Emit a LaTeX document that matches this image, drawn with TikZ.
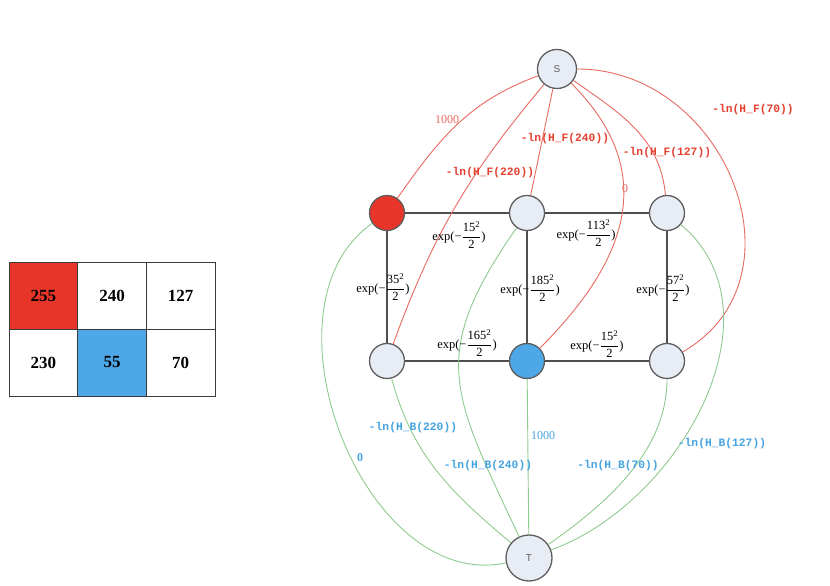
\documentclass[tikz,border=0pt]{standalone}
\usepackage{fontspec}
\setmainfont{Liberation Serif}
\newfontfamily\monof{Liberation Mono}
\newfontfamily\sansf{Liberation Sans}
\definecolor{nodefill}{HTML}{E8EDF5}
\definecolor{nodeline}{HTML}{5E5E5E}
\definecolor{gridline}{HTML}{4F4F4F}
\definecolor{redline}{HTML}{E86A60}
\definecolor{greenline}{HTML}{8FCB8F}
\definecolor{redtext}{HTML}{E5402F}
\definecolor{bluetext}{HTML}{45A3E0}
\definecolor{redfill}{HTML}{E8352A}
\definecolor{bluefill}{HTML}{4EA8E8}
\definecolor{cellline}{HTML}{3A3A3A}
\newcommand{\fr}[2]{$\displaystyle\frac{\mbox{#1}}{\mbox{#2}}$}
\newcommand{\sq}[1]{#1\textsuperscript{2}}
\begin{document}
\begin{tikzpicture}[x=1pt,y=1pt,
  vert/.style={circle, draw=nodeline, line width=1.3pt, fill=nodefill, minimum size=35pt, inner sep=0pt},
  term/.style={vert, font=\sansf\fontsize{10}{12}\selectfont, text=nodeline},
  redE/.style={draw=redline, line width=0.9pt},
  greenE/.style={draw=greenline, line width=0.9pt},
  gridE/.style={draw=gridline, line width=1.3pt},
  explab/.style={font=\fontsize{12.5}{14}\selectfont, inner sep=0pt},
  redlab/.style={font=\monof\bfseries\fontsize{11.3}{13}\selectfont, text=redtext, inner sep=0pt},
  bluelab/.style={font=\monof\bfseries\fontsize{11.3}{13}\selectfont, text=bluetext, inner sep=0pt},
  rednum/.style={font=\fontsize{12}{14}\selectfont, text=redline, inner sep=0pt},
  bluenum/.style={font=\fontsize{12}{14}\selectfont, text=bluetext, inner sep=0pt},
  cell/.style={draw=cellline, line width=0.8pt, minimum width=68.67pt, minimum height=67pt, inner sep=0pt, font=\bfseries\fontsize{17}{19}\selectfont}
]
\useasboundingbox (0,0) rectangle (830,586);
\fill[white] (0,0) rectangle (830,586);

% table
\node[cell, fill=redfill] (c11) at (43.3,290.5) {255};
\node[cell] (c12) at (112,290.5) {240};
\node[cell] (c13) at (180.7,290.5) {127};
\node[cell] (c21) at (43.3,223.5) {230};
\node[cell, fill=bluefill] (c22) at (112,223.5) {55};
\node[cell] (c23) at (180.7,223.5) {70};

% vertices
\node[term, minimum size=39pt] (S) at (557,517) {S};
\node[term, minimum size=46pt] (T) at (529,28) {T};
\node[vert, fill=redfill] (R) at (387,373) {};
\node[vert] (TM) at (527,373) {};
\node[vert] (TR) at (667,373) {};
\node[vert] (BL) at (387,225) {};
\node[vert, fill=bluefill] (B) at (527,225) {};
\node[vert] (BR) at (667,225) {};

% grid edges
\draw[gridE] (R) -- (TM);
\draw[gridE] (TM) -- (TR);
\draw[gridE] (BL) -- (B);
\draw[gridE] (B) -- (BR);
\draw[gridE] (R) -- (BL);
\draw[gridE] (TM) -- (B);
\draw[gridE] (TR) -- (BR);

% source edges
\draw[redE] (S) to[out=200, in=55] (R);
\draw[redE] (S) to[out=230, in=70] (BL);
\draw[redE] (S) -- (TM);
\draw[redE] (S) to[out=-45, in=45, looseness=1.2] (B);
\draw[redE] (S) to[out=-35, in=95] (TR);
\draw[redE] (S) to[out=0, in=30, looseness=1.25] (BR);

% sink edges
\draw[greenE] (R) to[out=215, in=192, looseness=1.02] (T);
\draw[greenE] (BL) to[out=-75, in=140] (T);
\draw[greenE] (TM) to[out=235, in=115, looseness=1.3] (T);
\draw[greenE] (B) -- (T);
\draw[greenE] (TR) to[out=-40, in=20, looseness=1.0] (T);
\draw[greenE] (BR) to[out=-90, in=35, looseness=0.9] (T);

% grid labels
\node[explab] (l1) at (459,351) {exp(−\fr{\sq{15}}{2})};
\node[explab] (l2) at (586,353) {exp(−\fr{\sq{113}}{2})};
\node[explab] (l3) at (383,299) {exp(−\fr{\sq{35}}{2})};
\node[explab] (l4) at (530,298) {exp(−\fr{\sq{185}}{2})};
\node[explab] (l5) at (663,298) {exp(−\fr{\sq{57}}{2})};
\node[explab] (l6) at (467,243) {exp(−\fr{\sq{165}}{2})};
\node[explab] (l7) at (597,242) {exp(−\fr{\sq{15}}{2})};

% source labels
\node[rednum] (r1) at (447,466) {1000};
\node[redlab] (r2) at (565,447) {-ln(H\_F(240))};
\node[redlab] (r3) at (490,413) {-ln(H\_F(220))};
\node[redlab] (r4) at (667,433) {-ln(H\_F(127))};
\node[redlab] (r5) at (753,476) {-ln(H\_F(70))};
\node[rednum] (r6) at (625,397) {0};

% sink labels
\node[bluelab] (b1) at (413,158) {-ln(H\_B(220))};
\node[bluenum, font=\bfseries\fontsize{12}{14}\selectfont] (b2) at (360,128) {0};
\node[bluelab] (b3) at (488,120) {-ln(H\_B(240))};
\node[bluenum] (b4) at (543,150) {1000};
\node[bluelab] (b5) at (618,120) {-ln(H\_B(70))};
\node[bluelab] (b6) at (722,142) {-ln(H\_B(127))};
\end{tikzpicture}
\end{document}
